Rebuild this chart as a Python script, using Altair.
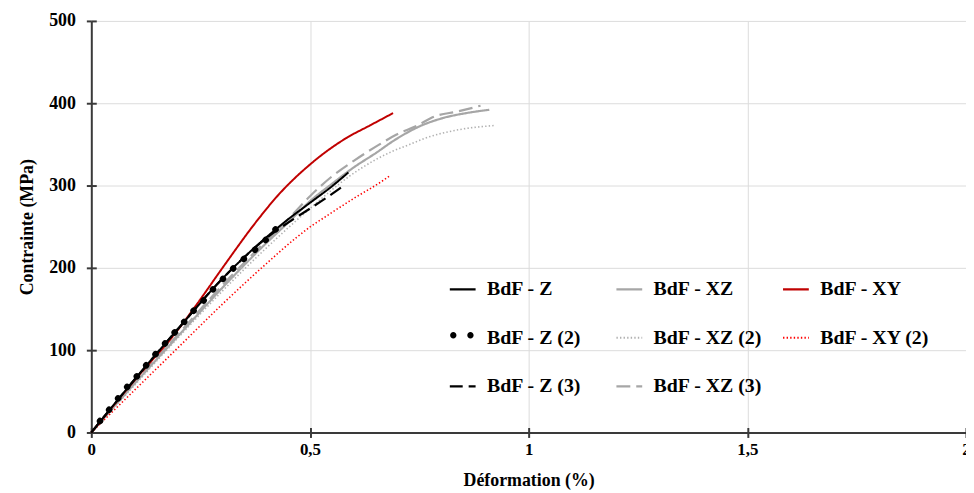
import altair as alt
import pandas as pd

# ---------------- data ----------------
series_names = ["BdF - Z", "BdF - XZ", "BdF - XY",
                "BdF - Z (2)", "BdF - XZ (2)", "BdF - XY (2)",
                "BdF - Z (3)", "BdF - XZ (3)"]

z_strain = [0, 0.1, 0.2, 0.3, 0.4, 0.45, 0.5, 0.55, 0.588]
z_stress = [0, 65, 127, 187, 237, 259, 279, 299, 316]

xz_strain = [0, 0.1, 0.2, 0.3, 0.4, 0.45, 0.5, 0.55, 0.6, 0.652, 0.69, 0.751, 0.804, 0.857, 0.91]
xz_stress = [0, 60, 118, 176, 230, 255, 281, 302, 322, 340, 354, 372, 382, 388, 392]

xy_strain = [0, 0.1, 0.2, 0.243, 0.3, 0.38, 0.425, 0.501, 0.584, 0.637, 0.69]
xy_stress = [0, 64, 126, 157, 200, 258, 287, 326, 358, 373, 388]

z2_strain = [0, 0.023, 0.046, 0.068, 0.091, 0.116, 0.136, 0.161, 0.182, 0.205, 0.224,
             0.247, 0.27, 0.289, 0.311, 0.33, 0.349, 0.372, 0.395, 0.425]
z2_stress = [0, 16, 31, 46, 61, 75, 89, 103, 117, 129, 143,
             154, 169, 180, 192, 202, 211, 221, 232, 249]

xz2_strain = [0, 0.1, 0.2, 0.3, 0.4, 0.5, 0.592, 0.652, 0.69, 0.728, 0.766, 0.842, 0.923]
xz2_stress = [0, 58, 116, 172, 224, 272, 312, 332, 342, 350, 358, 368, 373]

xy2_strain = [0, 0.1, 0.2, 0.3, 0.4, 0.467, 0.501, 0.535, 0.599, 0.664, 0.683]
xy2_stress = [0, 52, 104, 156, 205, 236, 250, 262, 284, 305, 312]

z3_strain = [0, 0.1, 0.2, 0.3, 0.4, 0.45, 0.5, 0.54, 0.572]
z3_stress = [0, 65, 127, 187, 236, 255, 272, 286, 298]

xz3_strain = [0, 0.1, 0.2, 0.3, 0.4, 0.45, 0.5, 0.55, 0.6, 0.659, 0.698, 0.742, 0.785, 0.838, 0.89]
xz3_stress = [0, 61, 120, 179, 233, 259, 287, 311, 330, 350, 362, 372, 384, 390, 397]

x_ticks = [0, 0.5, 1, 1.5, 2]
y_ticks = [0, 100, 200, 300, 400, 500]

# ---------------- styles ----------------
series_colors = ["#000000", "#a6a6a6", "#c00000",
                 "#000000", "#b0b0b0", "#ff0000",
                 "#000000", "#a6a6a6"]
series_dashes = [[1, 0], [1, 0], [1, 0],
                 [0, 100], [1.4, 2.2], [1.4, 2.2],
                 [13, 6], [14, 6]]
series_widths = [2, 2.2, 2, 6.5, 1.6, 1.6, 2.2, 2.2]
dots_dash = [0.1, 14.5]          # round-capped dots for "BdF - Z (2)"
two_dots_path = ("M -0.861,0 A 0.246,0.246 0 1,1 -0.369,0 A 0.246,0.246 0 1,1 -0.861,0 Z "
                 "M 0.47,0 A 0.246,0.246 0 1,1 0.962,0 A 0.246,0.246 0 1,1 0.47,0 Z")
legend_order = ["BdF - Z", "BdF - Z (2)", "BdF - Z (3)",
                "BdF - XZ", "BdF - XZ (2)", "BdF - XZ (3)",
                "BdF - XY", "BdF - XY (2)"]
draw_order = ["BdF - XZ", "BdF - XZ (2)", "BdF - XZ (3)", "BdF - XY (2)",
              "BdF - XY", "BdF - Z (3)", "BdF - Z", "BdF - Z (2)"]

strains = [z_strain, xz_strain, xy_strain, z2_strain, xz2_strain, xy2_strain, z3_strain, xz3_strain]
stresses = [z_stress, xz_stress, xy_stress, z2_stress, xz2_stress, xy2_stress, z3_stress, xz3_stress]

rows = []
for name, xs, ys in zip(series_names, strains, stresses):
    for i, (a, b) in enumerate(zip(xs, ys)):
        rows.append({"series": name, "strain": a, "stress": b, "idx": i})
df = pd.DataFrame(rows)

idx_of = {n: i for i, n in enumerate(series_names)}
color_range = [series_colors[idx_of[n]] for n in legend_order]
dash_range = [series_dashes[idx_of[n]] for n in legend_order]

FONT = "Liberation Serif"
DOTS = "BdF - Z (2)"

leg_common = dict(
    title=None, orient="none", legendX=360,
    labelFont=FONT, labelFontSize=20, labelFontWeight="bold", labelColor="#000000",
    symbolSize=676, labelOffset=10, padding=0, labelLimit=400,
)
leg = alt.Legend(legendY=256, columns=3, symbolType="stroke", symbolStrokeWidth=2.2,
                 rowPadding=24, columnPadding=15, gridAlign="all", **leg_common)
# overlay legend giving the "● ●" glyph of the round-dot series (no label of its own)
leg_dots = alt.Legend(legendY=304, labelExpr="''", symbolFillColor="#000000",
                      symbolStrokeWidth=0, symbolOpacity=1, **leg_common)

main_x = alt.Axis(values=x_ticks, title="Déformation (%)",
                  labelExpr="replace(format(datum.value, '~g'), '.', ',')",
                  labelFont=FONT, labelFontSize=17, labelFontWeight="bold",
                  labelColor="#000000", labelPadding=4, labelFlush=False,
                  titleFont=FONT, titleFontSize=18, titleFontWeight="bold",
                  titleColor="#000000", titlePadding=14)
main_y = alt.Axis(values=y_ticks, title="Contrainte (MPa)",
                  labelFont=FONT, labelFontSize=18, labelFontWeight="bold",
                  labelColor="#000000", labelPadding=11,
                  titleFont=FONT, titleFontSize=18, titleFontWeight="bold",
                  titleColor="#000000", titlePadding=12)
# inner half of the crossing ticks
in_x = alt.Axis(values=x_ticks, orient="bottom", offset=-5, domain=False, labels=False,
                grid=False, title=None, tickSize=5)
in_y = alt.Axis(values=y_ticks, orient="left", offset=-5, domain=False, labels=False,
                grid=False, title=None, tickSize=5)

x_scale = alt.Scale(domain=[0, 2], nice=False, zero=True)
y_scale = alt.Scale(domain=[0, 500], nice=False)

layers = []
for k, name in enumerate(draw_order):
    i = idx_of[name]
    if k == 0:
        ax_x, ax_y = main_x, main_y
    elif k == 1:
        ax_x, ax_y = in_x, in_y
    else:
        ax_x, ax_y = None, None
    enc = dict(
        x=alt.X("strain:Q", scale=x_scale, axis=ax_x),
        y=alt.Y("stress:Q", scale=y_scale, axis=ax_y),
        color=alt.Color("series:N", scale=alt.Scale(domain=legend_order, range=color_range), legend=leg),
        order=alt.Order("idx:Q"),
    )
    base = alt.Chart(df).transform_filter(alt.datum.series == name)
    if name == DOTS:
        enc["strokeDash"] = alt.value(dots_dash)
        layer = base.mark_line(strokeCap="round", interpolate="monotone",
                               strokeWidth=series_widths[i], strokeDashOffset=0.1).encode(**enc)
    else:
        enc["strokeDash"] = alt.StrokeDash("series:N",
                                           scale=alt.Scale(domain=legend_order, range=dash_range),
                                           legend=leg)
        layer = base.mark_line(strokeCap="butt", interpolate="monotone",
                               strokeWidth=series_widths[i]).encode(**enc)
    layers.append(layer)

# invisible (size ~0) points of the round-dot series, only to carry its legend glyph
dots_glyph = alt.Chart(df).transform_filter(alt.datum.series == DOTS).transform_calculate(
    dotseries="datum.series"
).mark_point(filled=True, color="#000000", size=0.01, strokeWidth=0).encode(
    x=alt.X("strain:Q", scale=x_scale, axis=None),
    y=alt.Y("stress:Q", scale=y_scale, axis=None),
    shape=alt.Shape("dotseries:N", scale=alt.Scale(domain=[DOTS], range=[two_dots_path]),
                    legend=leg_dots),
)
layers.append(dots_glyph)

chart = alt.layer(*layers).resolve_axis(x="independent", y="independent").properties(
    width=882, height=415,
    autosize=alt.AutoSizeParams(type="none"),
    padding={"left": 84, "top": 11, "right": 0, "bottom": 60},
).configure_view(stroke=None).configure_axis(
    domainColor="#3a3a3a", domainWidth=2, tickColor="#3a3a3a", tickWidth=2, tickSize=5,
    gridColor="#dcdcdc", gridWidth=1,
)

chart.save("out.html", embed_options={"renderer": "svg", "actions": False})
